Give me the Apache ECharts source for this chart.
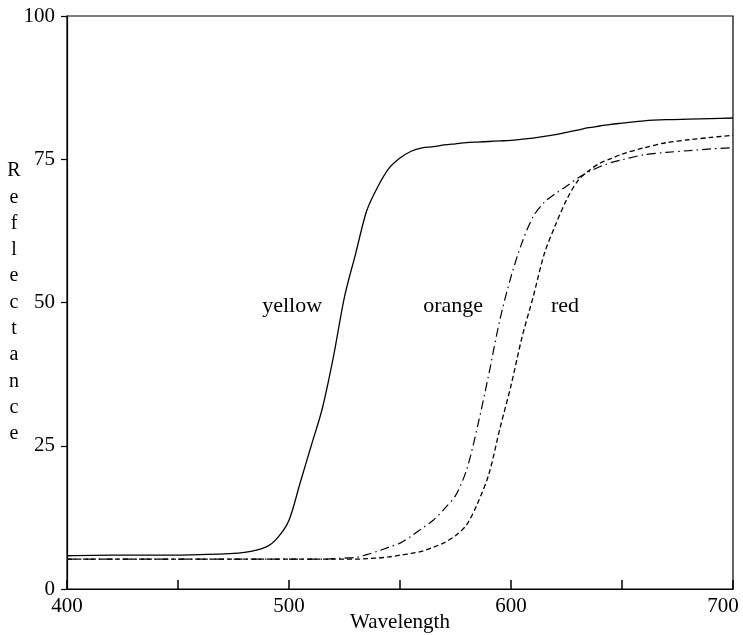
<!DOCTYPE html>
<html>
<head>
<meta charset="utf-8">
<script src="https://cdn.jsdelivr.net/npm/echarts@6/dist/echarts.min.js"></script>
<style>
  html, body { margin: 0; padding: 0; background: #fff; overflow: hidden; }
  #chart { width: 743px; height: 635px; }
</style>
</head>
<body>
<div id="chart"></div>
<script>
// wavelength grid shared by the three curves
var wavelengths = [400, 420, 440, 460, 480, 490, 495, 500, 505, 510, 515, 520, 525, 530, 535, 540,
  545, 550, 555, 560, 565, 570, 575, 580, 585, 590, 595, 600, 605, 610, 615, 620, 625, 630,
  635, 640, 645, 650, 660, 670, 680, 690, 700];

var yellowValues = [5.8, 5.9, 5.9, 6.0, 6.4, 7.4, 9.0, 12.0, 18.5, 25.0, 31.5, 40.5, 51.0, 58.5, 66.0, 70.2,
  73.4, 75.2, 76.4, 77.0, 77.2, 77.5, 77.7, 77.9, 78.0, 78.1, 78.2, 78.3, 78.5, 78.7, 79.0, 79.3, 79.7, 80.1,
  80.5, 80.8, 81.1, 81.3, 81.7, 81.9, 82.0, 82.1, 82.2];

var orangeValues = [5.2, 5.2, 5.2, 5.2, 5.2, 5.2, 5.2, 5.2, 5.2, 5.2, 5.2, 5.3, 5.4, 5.5, 6.0, 6.6,
  7.3, 8.0, 9.2, 10.6, 12.0, 14.0, 16.3, 20.8, 28.5, 37.5, 47.0, 54.5, 60.5, 65.0, 67.5, 69.0, 70.3, 71.7,
  72.8, 73.7, 74.4, 74.9, 75.8, 76.2, 76.5, 76.8, 77.0];

var redValues = [5.2, 5.2, 5.2, 5.2, 5.2, 5.2, 5.2, 5.2, 5.2, 5.2, 5.2, 5.2, 5.2, 5.2, 5.3, 5.4,
  5.6, 5.9, 6.2, 6.6, 7.3, 8.1, 9.3, 11.2, 15.0, 20.0, 28.0, 35.5, 44.0, 51.0, 58.5, 63.5, 67.9, 71.2,
  73.0, 74.3, 75.1, 75.9, 77.0, 77.9, 78.4, 78.8, 79.2];

var yTicks = [0, 25, 50, 75, 100];
var xLabelTicks = [400, 500, 600, 700];

// curve names and where their labels sit (wavelength, reflectance)
var curveNames = ["yellow", "orange", "red"];
var labelSpots = [[501.4, 49.4], [573.9, 49.4], [624.3, 49.4]];

var font = "Liberation Serif";

function pairs(xs, ys) {
  return xs.map(function (x, i) { return [x, ys[i]]; });
}

var chart = echarts.init(document.getElementById("chart"));

var lineStyles = [
  { color: "#000", width: 1.3, type: "solid" },
  { color: "#000", width: 1.2, type: [9, 4, 1.5, 4] },
  { color: "#000", width: 1.3, type: [5, 3] },
];
var valueSets = [yellowValues, orangeValues, redValues];

var series = curveNames.map(function (name, i) {
  return {
    name: name,
    type: "line",
    smooth: 0.3,
    showSymbol: false,
    symbol: "none",
    silent: true,
    animation: false,
    lineStyle: lineStyles[i],
    data: pairs(wavelengths, valueSets[i]),
    markPoint: {
      symbol: "circle",
      symbolSize: 1,
      silent: true,
      itemStyle: { color: "transparent" },
      label: {
        show: true,
        formatter: name,
        color: "#000",
        fontFamily: font,
        fontSize: 22,
        position: "inside",
      },
      data: [{ coord: labelSpots[i], value: name }],
    },
  };
});

chart.setOption({
  backgroundColor: "#fff",
  animation: false,
  grid: {
    left: 67,
    right: 10,
    top: 16,
    bottom: 46,
    outerBoundsMode: "none",
    containLabel: false,
    show: true,
    borderColor: "#000",
    borderWidth: 1.2,
  },
  xAxis: {
    type: "value",
    min: 400,
    max: 700,
    interval: 50,
    name: "Wavelength",
    nameLocation: "middle",
    nameGap: 23,
    nameMoveOverlap: false,
    nameTextStyle: { color: "#000", fontFamily: font, fontSize: 21 },
    axisLine: { show: true, lineStyle: { color: "#000", width: 1.2 } },
    axisTick: { show: true, inside: true, length: 9, lineStyle: { color: "#000", width: 1.5 } },
    axisLabel: {
      color: "#000",
      fontFamily: font,
      fontSize: 21,
      margin: 7,
      formatter: function (v) {
        if (xLabelTicks.indexOf(v) < 0) return "";
        return v === 700 ? "{last|" + v + "}" : String(v);
      },
      rich: {
        last: { fontFamily: font, fontSize: 21, color: "#000", padding: [0, 20, 0, 0] },
      },
    },
    splitLine: { show: false },
  },
  yAxis: {
    type: "value",
    min: 0,
    max: 100,
    interval: 25,
    name: "R\ne\nf\nl\ne\nc\nt\na\nn\nc\ne",
    nameLocation: "middle",
    nameRotate: 0,
    nameGap: 53,
    nameMoveOverlap: false,
    nameTextStyle: {
      color: "#000", fontFamily: font, fontSize: 20, lineHeight: 26.3, align: "center",
      padding: [26, 0, 0, 0],
    },
    axisLine: { show: true, lineStyle: { color: "#000", width: 1.2 } },
    axisTick: { show: true, inside: false, length: 6, lineStyle: { color: "#000", width: 1.2 } },
    axisLabel: {
      color: "#000",
      fontFamily: font,
      fontSize: 21,
      margin: 12,
      formatter: function (v) {
        return yTicks.indexOf(v) >= 0 ? String(v) : "";
      },
    },
    splitLine: { show: false },
  },
  series: series,
});
</script>
</body>
</html>
